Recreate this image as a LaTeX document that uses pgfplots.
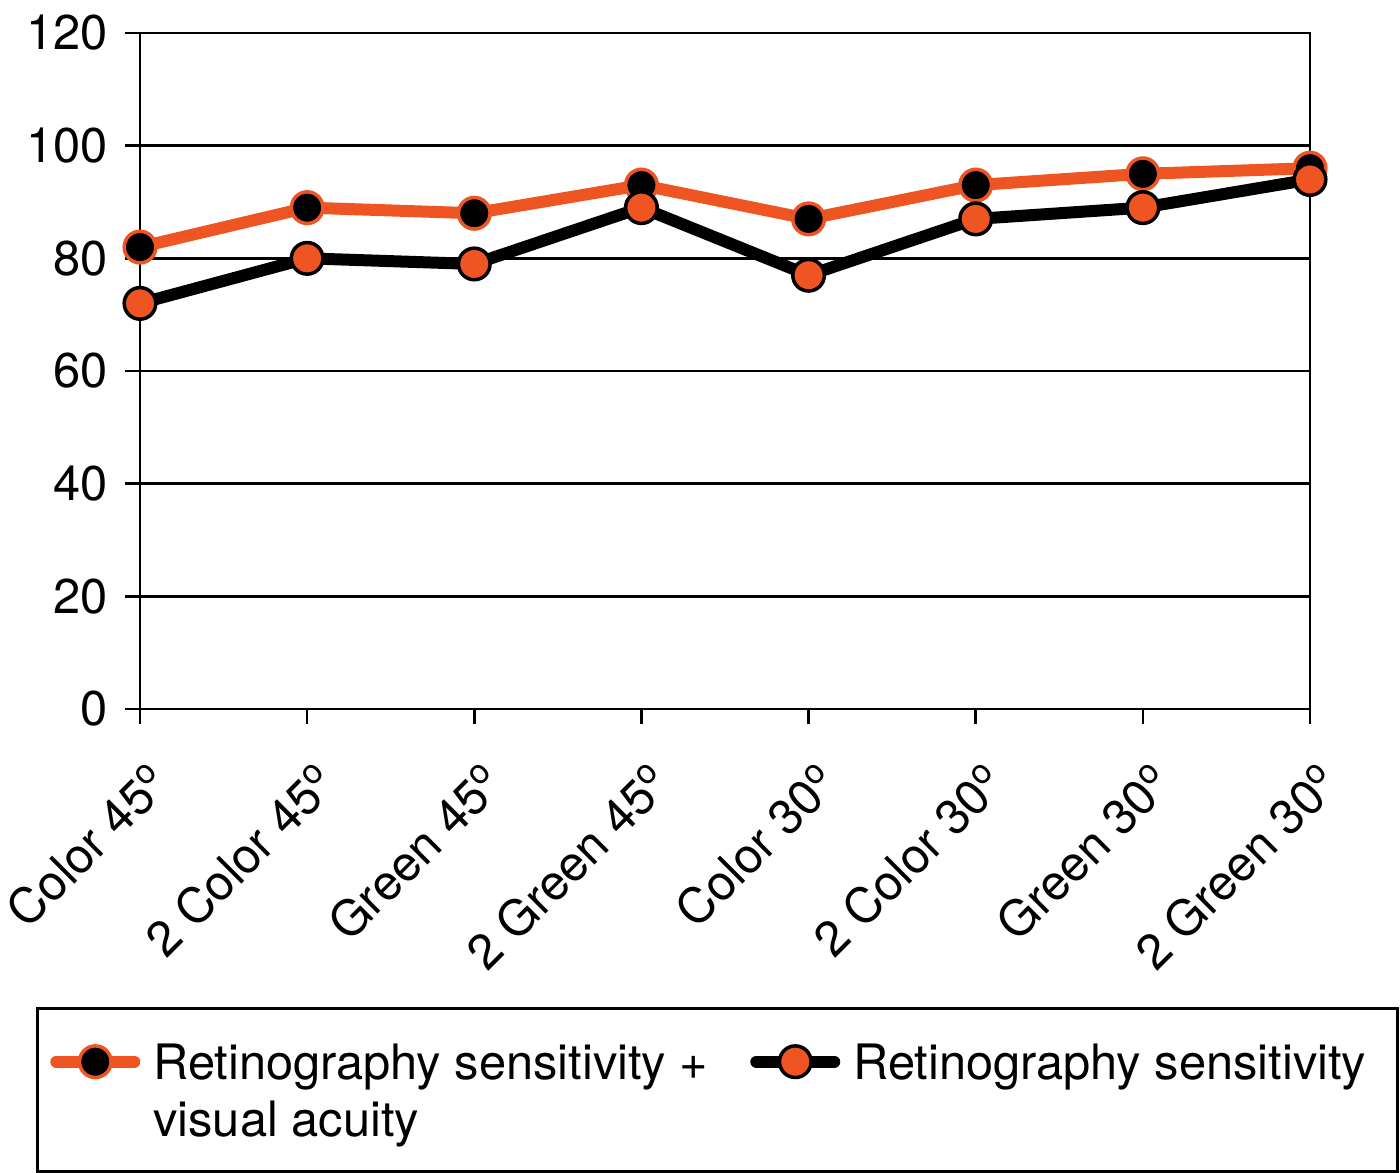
\documentclass[border=0pt]{standalone}
\usepackage{pgfplots}
\pgfplotsset{compat=1.18}
\usepackage{fontspec}
\setmainfont{TeX Gyre Heros}
\definecolor{myorange}{RGB}{238,85,35}
\newcommand{\dg}{\textsuperscript{o}}
\begin{document}
\begin{tikzpicture}
\begin{axis}[
 at={(0,0)}, anchor=south west,
 scale only axis, width=585pt, height=338pt,
 xmin=0, xmax=7, ymin=0, ymax=120,
 xtick={0,...,7},
 xticklabels={Color 45\dg, 2 Color 45\dg, Green 45\dg, 2 Green 45\dg, Color 30\dg, 2 Color 30\dg, Green 30\dg, 2 Green 30\dg},
 ytick={0,20,...,120},
 ymajorgrids, grid style={black, line width=1.3pt},
 axis line style={line width=1.3pt},
 major tick style={black, line width=1.3pt},
 tick align=outside, major tick length=7.5pt,
 tick pos=left,
 tick label style={font=\fontsize{24.4}{28.5}\selectfont},
 /pgf/number format/assume math mode=true,
 yticklabel style={anchor=east, inner sep=0pt, xshift=-8.5pt},
 xticklabel style={rotate=45, anchor=east, inner sep=0pt, xshift=-10.25pt, yshift=-24.5pt},
 clip=false,
 legend columns=2,
 legend style={at={(-0.0889,-0.4408)}, anchor=north west, draw=black, line width=1.3pt,
   font=\fontsize{24.4}{28.5}\selectfont, inner xsep=6.5pt, inner ysep=16pt,
   cells={anchor=base west}, nodes={inner sep=0pt, text height=19.5pt, text depth=30pt},
   /tikz/every even column/.append style={column sep=0pt},
   /tikz/every odd column/.append style={column sep=0pt}},
 legend image code/.code={\draw[mark repeat=2,mark phase=2,#1] plot coordinates {(3pt,8.8pt) (22.5pt,8.8pt) (42pt,8.8pt)};},
]
\addplot[myorange, line width=6pt, line cap=round, line join=round, mark=*, mark size=7.9pt,
  mark options={fill=black, draw=myorange, line width=1.75pt, solid}]
  coordinates {(0,82) (1,89) (2,88) (3,93) (4,87) (5,93) (6,95) (7,96)};
\addlegendentry{\hspace*{6.5pt}\parbox[t]{298.5pt}{\raggedright Retinography sensitivity +\\visual acuity}}
\addplot[black, line width=6pt, line cap=round, line join=round, mark=*, mark size=7.9pt,
  mark options={fill=myorange, draw=black, line width=1.75pt, solid}]
  coordinates {(0,72) (1,80) (2,79) (3,89) (4,77) (5,87) (6,89) (7,94)};
\addlegendentry{\hspace*{6.5pt}\parbox[t]{265.5pt}{\raggedright Retinography sensitivity}}
\end{axis}
\pgfresetboundingbox
\path[use as bounding box] (-70pt,-231.5pt) rectangle (630pt,354.5pt);
\end{tikzpicture}
\end{document}
